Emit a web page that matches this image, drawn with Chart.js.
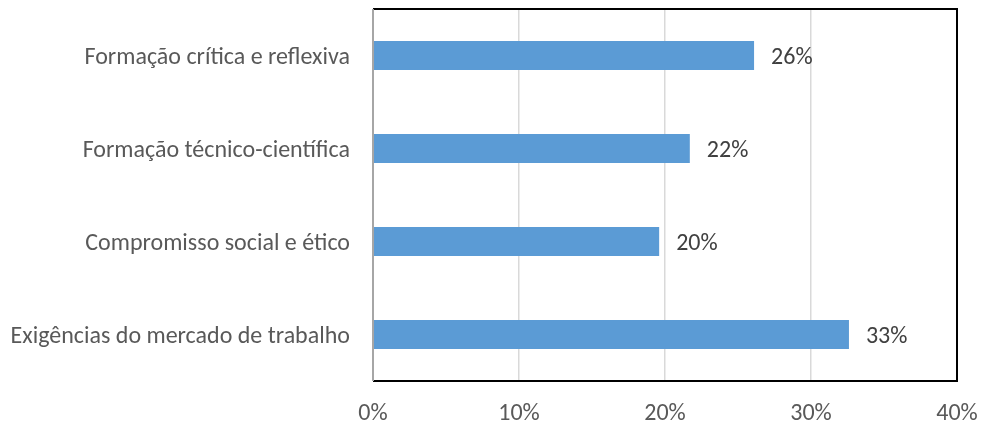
<!DOCTYPE html>
<html>
<head>
<meta charset="utf-8">
<script src="https://cdn.jsdelivr.net/npm/chart.js@4"></script>
<style>
  html, body { margin: 0; padding: 0; background: #fff; }
  #wrap { width: 981px; height: 423px; }
</style>
</head>
<body>
<div id="wrap"><canvas id="chart"></canvas></div>
<script>
const categories = [
    'Formação crítica e reflexiva',
    'Formação técnico-científica',
    'Compromisso social e ético',
    'Exigências do mercado de trabalho'
];
const values = [26.1, 21.7, 19.6, 32.6];
const xTicks = [0, 10, 20, 30, 40];

const fontFamily = 'Carlito, Calibri, "Liberation Sans", sans-serif';

// value labels to the right of each bar
const barLabels = {
    id: 'barLabels',
    afterDatasetsDraw(chart) {
        const ctx = chart.ctx;
        const meta = chart.getDatasetMeta(0);
        ctx.save();
        ctx.font = '24px ' + fontFamily;
        ctx.fillStyle = '#404040';
        ctx.textAlign = 'left';
        ctx.textBaseline = 'middle';
        meta.data.forEach((bar, i) => {
            ctx.fillText(Math.round(values[i]) + '%', bar.x + 17, bar.y + 2);
        });
        ctx.restore();
    }
};

// black frame on top, right and bottom of the plot area
const frame = {
    id: 'frame',
    afterDraw(chart) {
        const a = chart.chartArea;
        const ctx = chart.ctx;
        ctx.save();
        ctx.strokeStyle = '#000';
        ctx.lineWidth = 2;
        ctx.beginPath();
        ctx.moveTo(a.left, a.top);
        ctx.lineTo(a.right, a.top);
        ctx.lineTo(a.right, a.bottom);
        ctx.lineTo(a.left, a.bottom);
        ctx.stroke();
        ctx.strokeStyle = '#a6a6a6';
        ctx.beginPath();
        ctx.moveTo(a.left, a.top);
        ctx.lineTo(a.left, a.bottom);
        ctx.stroke();
        ctx.restore();
    }
};

function noPad(axis) {
    axis.paddingTop = 0;
    axis.paddingBottom = 0;
    axis.paddingLeft = 0;
    axis.paddingRight = 0;
}

new Chart(document.getElementById('chart'), {
    type: 'bar',
    data: {
        labels: categories,
        datasets: [{
            data: values,
            backgroundColor: '#5b9bd5',
            barPercentage: 0.31,
            categoryPercentage: 1.0
        }]
    },
    options: {
        indexAxis: 'y',
        responsive: true,
        maintainAspectRatio: false,
        animation: false,
        layout: { padding: { top: 9, right: 24, left: 0, bottom: 0 } },
        plugins: {
            legend: { display: false },
            tooltip: { enabled: false }
        },
        scales: {
            x: {
                min: 0,
                max: 40,
                afterBuildTicks: axis => { axis.ticks = xTicks.map(v => ({ value: v })); },
                afterFit: axis => { axis.height = 42; noPad(axis); },
                grid: { color: '#d9d9d9', lineWidth: 1.5, drawTicks: false },
                border: { display: false },
                ticks: {
                    padding: 19,
                    maxRotation: 0,
                    color: '#595959',
                    font: { family: fontFamily, size: 24 },
                    callback: v => v + '%'
                }
            },
            y: {
                afterFit: axis => { axis.width = 373; noPad(axis); },
                grid: { display: false, drawTicks: false },
                border: { display: false },
                ticks: {
                    padding: 23,
                    labelOffset: 2,
                    color: '#595959',
                    font: { family: fontFamily, size: 24 }
                }
            }
        }
    },
    plugins: [barLabels, frame]
});
</script>
</body>
</html>
